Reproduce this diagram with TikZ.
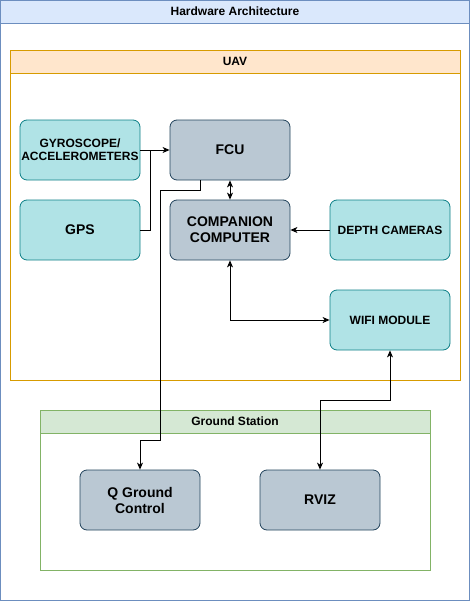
\documentclass[tikz,border=0pt]{standalone}
\usepackage{fontspec}
\setmainfont{Liberation Sans}
\usetikzlibrary{arrows.meta}
\definecolor{blueF}{HTML}{DAE8FC}\definecolor{blueS}{HTML}{6C8EBF}
\definecolor{orF}{HTML}{FFE6CC}\definecolor{orS}{HTML}{D79B00}
\definecolor{grF}{HTML}{D5E8D4}\definecolor{grS}{HTML}{82B366}
\definecolor{tlF}{HTML}{B0E3E6}\definecolor{tlS}{HTML}{0E8088}
\definecolor{gyF}{HTML}{BAC8D3}\definecolor{gyS}{HTML}{23445D}
\begin{document}
\begin{tikzpicture}[x=1pt,y=-1pt,
  tealbox/.style={draw=tlS,fill=tlF,rounded corners=7pt,minimum width=120pt,minimum height=60pt,align=center,font=\bfseries\fontsize{12}{13}\selectfont,inner sep=0pt,line width=0.8pt},
  graybox/.style={draw=gyS,fill=gyF,rounded corners=7pt,minimum width=120pt,minimum height=60pt,align=center,font=\bfseries\fontsize{14}{16}\selectfont,inner sep=0pt,line width=0.8pt},
  tip/.style={Stealth[length=7pt,width=6pt,inset=2pt]},
  conn/.style={line width=0.9pt,-{Stealth[length=7pt,width=6pt,inset=2pt]}},
  biconn/.style={line width=0.9pt,{Stealth[length=7pt,width=6pt,inset=2pt]}-{Stealth[length=7pt,width=6pt,inset=2pt]}},
  hdr/.style={font=\bfseries\fontsize{12}{14}\selectfont}]
\useasboundingbox (0,0) rectangle (474,602);
% outer
\draw[blueS,fill=white,line width=0.8pt] (0.5,0.5) rectangle (469.5,600);
\draw[blueS,fill=blueF,line width=0.8pt] (0.5,0.5) rectangle (469.5,23);
\node[hdr] (title) at (235,11.5) {Hardware Architecture};
% UAV
\draw[orS,fill=white,line width=0.8pt] (10,50) rectangle (460,380);
\draw[orS,fill=orF,line width=0.8pt] (10,50) rectangle (460,73);
\node[hdr] (uav) at (235,61.5) {UAV};
% Ground
\draw[grS,fill=white,line width=0.8pt] (40,410) rectangle (430,570);
\draw[grS,fill=grF,line width=0.8pt] (40,410) rectangle (430,433);
\node[hdr] (gs) at (235,421.5) {Ground Station};
% nodes
\node[tealbox] (gyro) at (80,150) {GYROSCOPE/\\ACCELEROMETERS};
\node[tealbox,font=\bfseries\fontsize{14}{16}\selectfont] (gps) at (80,230) {GPS};
\node[graybox] (fcu) at (230,150) {FCU};
\node[graybox] (comp) at (230,230) {COMPANION\\COMPUTER};
\node[tealbox] (depth) at (390,230) {DEPTH CAMERAS};
\node[tealbox] (wifi) at (390,320) {WIFI MODULE};
\node[graybox] (qgc) at (140,500) {Q Ground\\Control};
\node[graybox] (rviz) at (320,500) {RVIZ};
% connectors
\draw[conn] (gyro.east) -- (fcu.west);
\draw[line width=0.9pt] (gps.east) -- (150,230) -- (150,150);
\draw[biconn] (fcu.south) -- (comp.north);
\draw[conn] ([xshift=-30pt]fcu.south) -- (200,190) -- (160,190) -- (160,440) -- (140,440) -- (qgc.north);
\draw[conn] (depth.west) -- (comp.east);
\draw[biconn] (comp.south) -- (230,320) -- (wifi.west);
\draw[biconn] (wifi.south) -- (390,400) -- (320,400) -- (rviz.north);
\end{tikzpicture}
\end{document}
